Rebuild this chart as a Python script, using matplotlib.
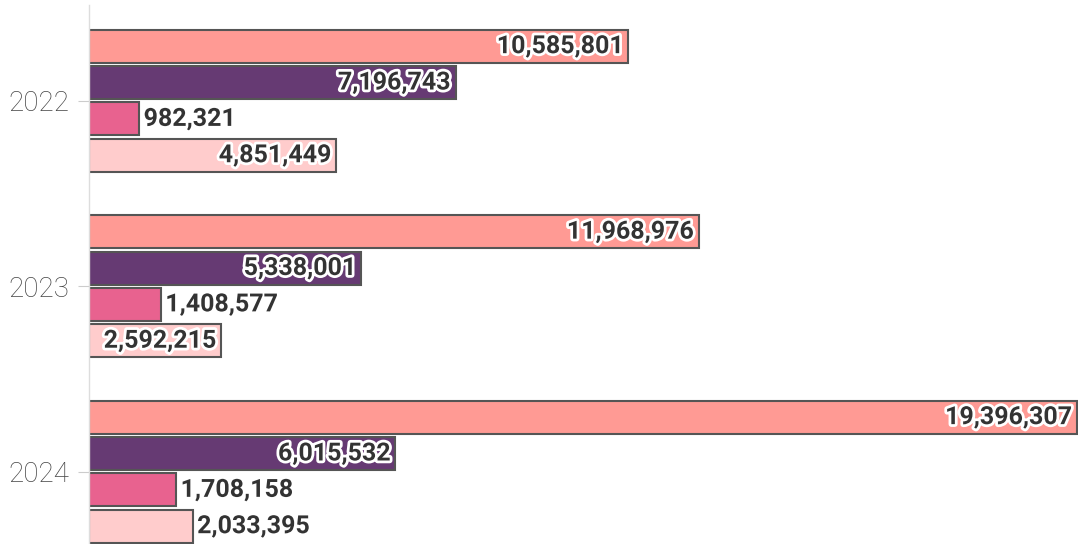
import numpy as np
import matplotlib.pyplot as plt
import matplotlib.patheffects as pe

# Data
years = ["2022", "2023", "2024"]
series_1 = [10585801, 11968976, 19396307]
series_2 = [7196743, 5338001, 6015532]
series_3 = [982321, 1408577, 1708158]
series_4 = [4851449, 2592215, 2033395]

colors = ["#FF9A94", "#663A73", "#E8628F", "#FFCCCC"]
all_series = [series_1, series_2, series_3, series_4]

plt.rcParams["font.family"] = ["Roboto", "DejaVu Sans"]

fig = plt.figure(figsize=(10.79, 5.44), dpi=100)
ax = fig.add_axes([89 / 1079, 0, 989 / 1079, 539 / 544])

y = np.arange(len(years))
step = 0.196
height = 0.178

halo = [pe.withStroke(linewidth=4, foreground="white")]

for i, (vals, col) in enumerate(zip(all_series, colors)):
    pos = y + (i - 1.5) * step
    bars = ax.barh(pos, vals, height=height, color=col,
                   edgecolor="#555555", linewidth=1.5)
    for b, v in zip(bars, vals):
        label = f"{v:,}"
        cy = b.get_y() + b.get_height() / 2
        if v > 2.3e6:
            ax.text(v - 90000, cy, label, ha="right", va="center",
                    fontsize=18, fontweight="bold", color="#333333",
                    path_effects=halo)
        else:
            ax.text(v + 90000, cy, label, ha="left", va="center",
                    fontsize=18, fontweight="bold", color="#333333",
                    path_effects=halo)

ax.set_yticks(y)
ax.set_yticklabels(years, fontsize=20, color="#444444", fontweight="light")
ax.tick_params(axis="y", length=8, color="#cccccc", pad=6)
ax.set_xticks([])
ax.set_xlim(0, 19420000)
ax.set_ylim(2.39, -0.516)

for s in ["top", "right", "bottom"]:
    ax.spines[s].set_visible(False)
ax.spines["left"].set_color("#dddddd")
ax.spines["left"].set_linewidth(1)

fig.savefig("out.png", dpi=100)
